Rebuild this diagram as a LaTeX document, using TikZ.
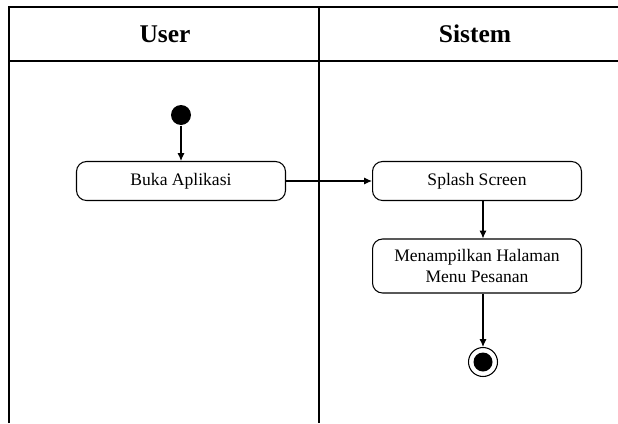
\documentclass[tikz,border=0pt]{standalone}
\usepackage{fontspec}
\setmainfont{Liberation Serif}
\usetikzlibrary{arrows.meta}

\begin{document}
\begin{tikzpicture}[x=0.02cm,y=-0.02cm,line width=0.6pt,->,>={Latex[length=4.5pt,width=4pt]}]
                \tikzstyle{lane}=[-,line width=0.7pt]
                \tikzstyle{action}=[rectangle,rounded corners=0.2cm,draw=black,fill=white,minimum width=4.18cm,minimum height=0.78cm,inner sep=2pt,align=center,font=\fontsize{10}{12}\selectfont]
                \tikzstyle{start}=[circle,fill=black,minimum size=0.4cm,inner sep=0pt]
                \tikzstyle{finish}=[circle,draw=black,fill=white,minimum size=0.58cm,inner sep=0pt]
                \useasboundingbox (0,0) rectangle (618,423);

                % swimlanes
                \draw[lane] (9,423) -- (9,7) -- (618,7);
                \draw[lane] (9,61) -- (618,61);
                \draw[lane] (319,7) -- (319,423);
                \foreach \name/\x in {User/165, Sistem/475}
                        \node[font=\bfseries\fontsize{14.5}{16}\selectfont] (lane-\name) at (\x,34) {\name};

                % nodes
                \node[start] (mulai) at (181,115) {};
                \node[action] (buka) at (181,181) {Buka Aplikasi};
                \node[action] (splash) at (477,181) {Splash Screen};
                \node[action,minimum height=1.08cm] (menu) at (477,266) {Menampilkan Halaman\\Menu Pesanan};
                \node[finish] (selesai) at (483,362) {};
                \node[start,minimum size=0.38cm] (selesai-dot) at (selesai) {};

                % flows
                \draw (mulai) -- (buka);
                \draw (buka) -- (splash);
                \draw (splash.south -| selesai) -- (menu.north -| selesai);
                \draw (menu.south -| selesai) -- (selesai);
            \end{tikzpicture}
\end{document}
